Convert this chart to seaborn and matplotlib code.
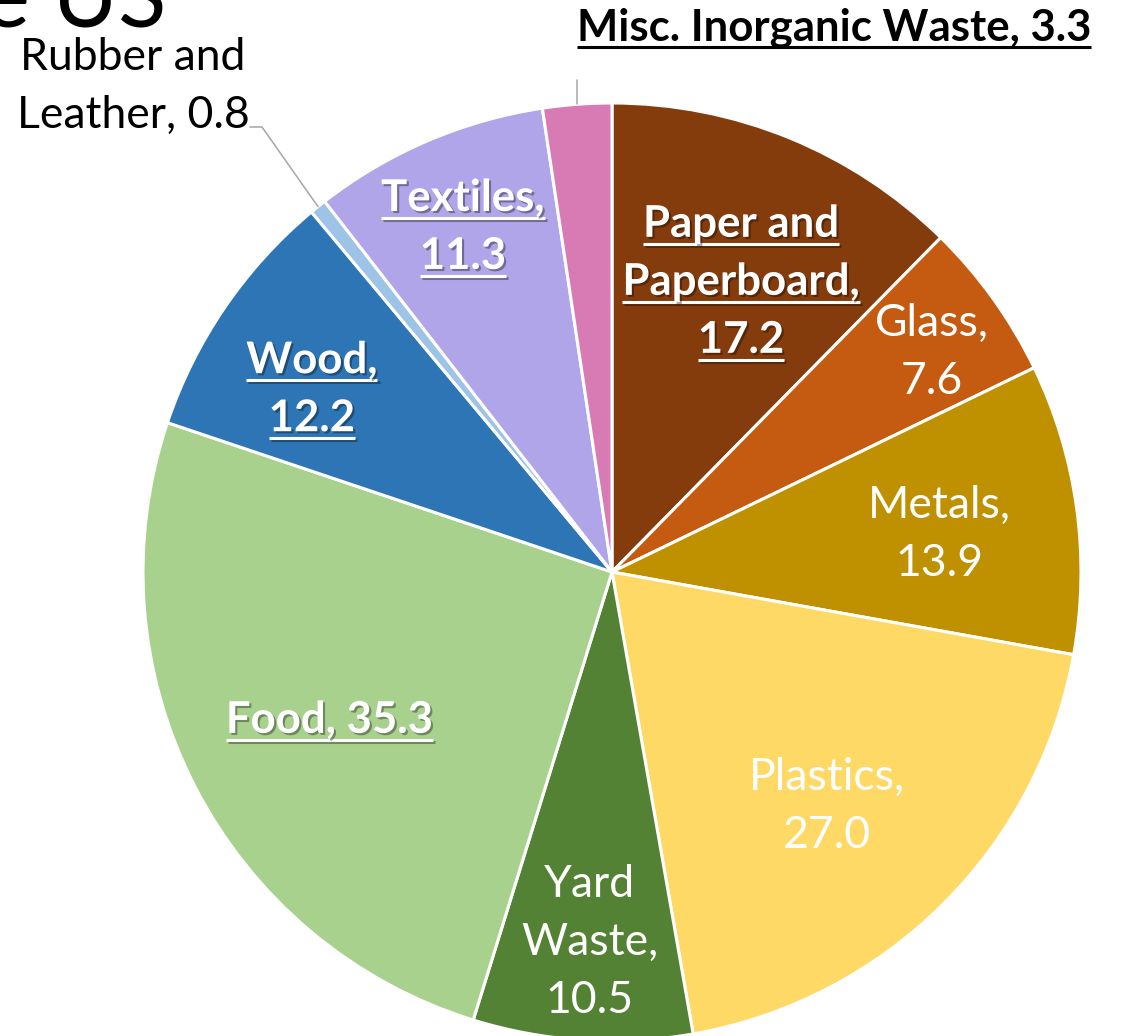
import matplotlib
matplotlib.use("Agg")
import numpy as np
import matplotlib.pyplot as plt
import matplotlib.patheffects as pe
from matplotlib.lines import Line2D
import seaborn as sns

# Waste composition (million tons)
categories = ["Paper and\nPaperboard", "Glass", "Metals", "Plastics", "Yard\nWaste",
              "Food", "Wood", "Rubber and\nLeather", "Textiles", "Misc. Inorganic Waste"]
values = [17.2, 7.6, 13.9, 27.0, 10.5, 35.3, 12.2, 0.8, 11.3, 3.3]
colors = ["#843C0C", "#C55A11", "#BF9000", "#FFD966", "#548235",
          "#A9D18E", "#2E75B6", "#9DC3E6", "#B1A5E9", "#D87BB5"]

# label styling per slice
value_sep = ["\n", "\n", "\n", "\n", "\n", " ", "\n", " ", "\n", " "]
emphasis = [True, False, False, False, False, True, True, False, True, True]
text_colors = ["white", "white", "white", "white", "white",
               "white", "white", "black", "white", "black"]
label_pos = [(0.275, 0.623), (0.682, 0.473), (0.699, 0.085), (0.458, -0.495),
             (-0.047, -0.785), (-0.603, -0.311), (-0.640, 0.394), (-1.021, 1.040),
             (-0.318, 0.740), (0.473, 1.166)]

sns.set_theme(style="white")
plt.rcParams["font.family"] = ["Lato", "DejaVu Sans"]

W, H = 1122, 1036
R_PX = 469.0
CX, CY = 612.0, 572.0
fig = plt.figure(figsize=(W / 100, H / 100), dpi=100)
fig.patch.set_facecolor("white")
ax = fig.add_axes([(CX - R_PX) / W, (H - CY - R_PX) / H, 2 * R_PX / W, 2 * R_PX / H])

palette = sns.color_palette(colors)
wedges, _ = ax.pie(values, colors=palette, startangle=90, counterclock=False, radius=1,
                   wedgeprops=dict(edgecolor="white", linewidth=2.2))
ax.set_xlim(-1, 1)
ax.set_ylim(-1, 1)
ax.set_aspect("equal")
ax.axis("off")

px = 1.0 / R_PX
line_step = 58 * px
base_drop = 15 * px
shadow = [pe.withSimplePatchShadow(offset=(1.5, -1.5), shadow_rgbFace="black", alpha=0.35)]
line_shadow = [pe.SimpleLineShadow(offset=(1.5, -1.5), shadow_color="black", alpha=0.35),
               pe.Normal()]

drawn = []
for cat, val, sep, emph, tc, (cx, cy) in zip(categories, values, value_sep, emphasis,
                                              text_colors, label_pos):
    text = f"{cat},{sep}{val:.1f}"
    lines = text.split("\n")
    n = len(lines)
    for i, ln in enumerate(lines):
        yc = cy + ((n - 1) / 2 - i) * line_step
        yb = yc - base_drop
        use_shadow = emph and tc == "white"
        t = ax.text(cx, yb, ln, ha="center", va="baseline",
                    fontsize=31.5 if emph else 32,
                    fontweight="bold" if emph else "normal", color=tc,
                    path_effects=shadow if use_shadow else None)
        drawn.append((t, yb, emph, tc, use_shadow))

# leader lines for the thin slices
def edge_point(w, r=1.0):
    ang = np.deg2rad((w.theta1 + w.theta2) / 2)
    return r * np.cos(ang), r * np.sin(ang)

mx, my = edge_point(wedges[9])
ax.add_line(Line2D([mx, mx], [my, (CY - 80) / R_PX], color="#A6A6A6", lw=1.1, clip_on=False))
rx, ry = edge_point(wedges[7])
elbow_y = (CY - 127) / R_PX
ax.add_line(Line2D([rx, (262 - CX) / R_PX, (250 - CX) / R_PX], [ry, elbow_y, elbow_y],
                   color="#A6A6A6", lw=1.1, clip_on=False))

# underlines for emphasized labels
fig.canvas.draw()
renderer = fig.canvas.get_renderer()
inv = ax.transData.inverted()
for t, yb, emph, tc, use_shadow in drawn:
    if not emph:
        continue
    bb = t.get_window_extent(renderer)
    x0 = inv.transform((bb.x0, 0))[0]
    x1 = inv.transform((bb.x1, 0))[0]
    yu = yb - 7 * px
    ax.add_line(Line2D([x0, x1], [yu, yu], color=tc, lw=2.2, clip_on=False,
                       solid_capstyle="butt",
                       path_effects=line_shadow if use_shadow else None))

# large heading running off the top edge
fig.text(166 / W, 1 - 28 / H, "e US", ha="right", va="baseline", fontsize=64,
         fontweight="normal", color="black")

fig.savefig("out.png", dpi=100)
